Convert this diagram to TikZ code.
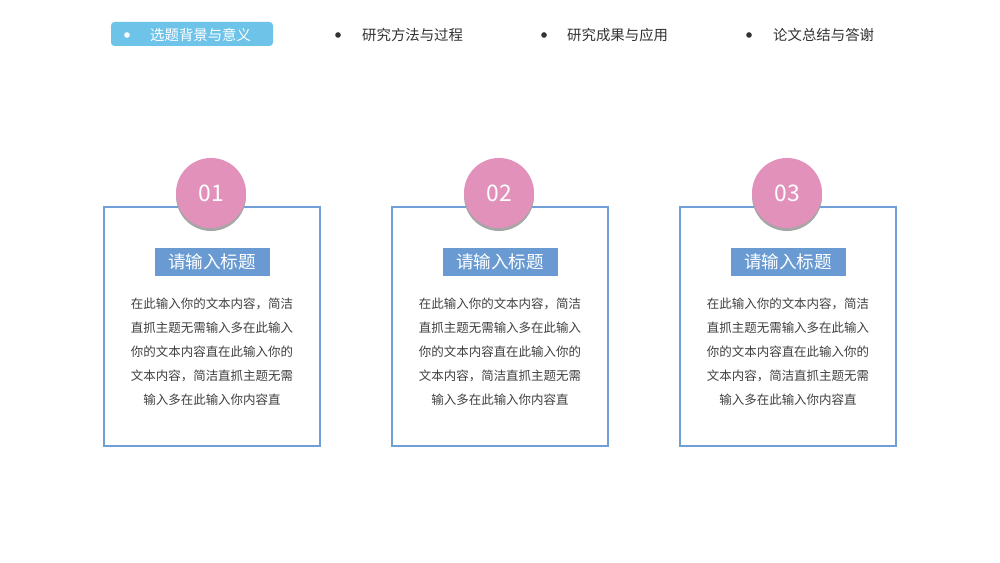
\documentclass[tikz,border=0pt]{standalone}
\usepackage{fontspec}
\newfontfamily\cjk{Noto Sans CJK SC}
\begin{document}
\begin{tikzpicture}[x=0.02cm,y=-0.02cm,
  frame/.style={draw=boxblue,line width=1.3pt,fill=white},
  num/.style={circle,fill=pinkc,minimum size=70*0.02cm,inner sep=0pt,text=white,font=\cjk\fontsize{13}{13}\selectfont},
  ttl/.style={fill=ttlblue,text=white,minimum width=115*0.02cm,minimum height=28*0.02cm,inner sep=0pt,font=\cjk\fontsize{10}{10}\selectfont},
  body/.style={align=center,text=textgray,font=\cjk\fontsize{7.1}{13.6}\selectfont},
  nav/.style={anchor=west,text=navgray,font=\cjk\fontsize{8.2}{8.2}\selectfont},
  dot/.style={circle,fill=#1,minimum size=3.2pt,inner sep=0pt}]
\definecolor{boxblue}{HTML}{6F9FD6}
\definecolor{pinkc}{HTML}{E291BB}
\definecolor{ttlblue}{HTML}{699BD2}
\definecolor{textgray}{HTML}{404040}
\definecolor{navgray}{HTML}{333333}
\definecolor{navblue}{HTML}{6EC3E9}
\useasboundingbox[fill=white] (0,0) rectangle (1000,563);
\fill[navblue,rounded corners=2pt] (111,22) rectangle (273,46);
\node[dot=white] (d1) at (127,35) {};
\node[nav,text=white] (n1) at (144,35) {选题背景与意义};
\node[dot=navgray] (d2) at (338,35) {};
\node[nav] (n2) at (356,35) {研究方法与过程};
\node[dot=navgray] (d3) at (544,35) {};
\node[nav] (n3) at (561,35) {研究成果与应用};
\node[dot=navgray] (d4) at (749,35) {};
\node[nav] (n4) at (767,35) {论文总结与答谢};
\foreach \i/\x in {1/104,2/392,3/680}{
  \draw[frame] (\x,207) rectangle (\x+216,446);
  \fill[black!35] (\x+107,196) circle[radius=35*0.02cm];
  \node[num] (c\i) at (\x+107,193) {0\i};
  \node[ttl] (t\i) at (\x+108,262) {请输入标题};
  \node[body] (b\i) at (\x+108,352) {在此输入你的文本内容，简洁\\直抓主题无需输入多在此输入\\你的文本内容直在此输入你的\\文本内容，简洁直抓主题无需\\输入多在此输入你内容直};
}
\end{tikzpicture}
\end{document}
